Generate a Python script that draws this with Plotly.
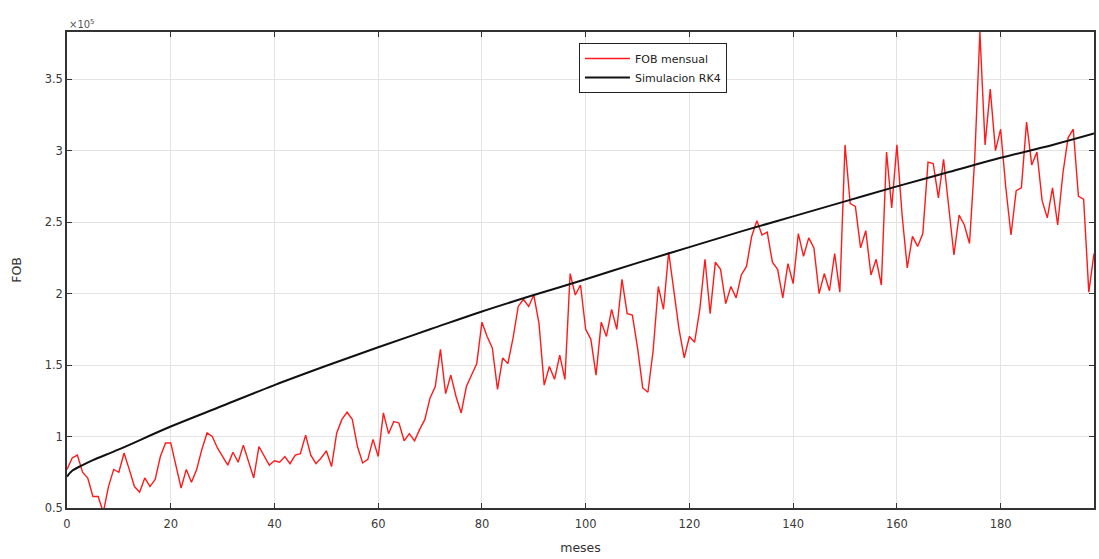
import plotly.graph_objects as go

# FOB mensual (x 10^5), month 0..198
months = list(range(0, 199))
fob = [
    0.77, 0.85, 0.87, 0.75, 0.71, 0.58, 0.58, 0.47, 0.65, 0.77,
    0.75, 0.885, 0.77, 0.65, 0.61, 0.71, 0.65, 0.70, 0.86, 0.955,
    0.955, 0.79, 0.64, 0.77, 0.68, 0.77, 0.91, 1.025, 1.00, 0.92,
    0.86, 0.80, 0.89, 0.82, 0.94, 0.83, 0.71, 0.93, 0.87, 0.80,
    0.83, 0.82, 0.86, 0.81, 0.87, 0.88, 1.01, 0.87, 0.81, 0.85,
    0.90, 0.79, 1.025, 1.12, 1.17, 1.12, 0.93, 0.815, 0.84, 0.98,
    0.86, 1.165, 1.02, 1.105, 1.095, 0.97, 1.02, 0.97, 1.05, 1.12,
    1.27, 1.35, 1.61, 1.30, 1.43, 1.28, 1.165, 1.35, 1.43, 1.51,
    1.80, 1.70, 1.62, 1.33, 1.55, 1.51, 1.69, 1.91, 1.96, 1.91,
    1.99, 1.79, 1.36, 1.49, 1.40, 1.57, 1.40, 2.14, 1.99, 2.06,
    1.75, 1.68, 1.43, 1.80, 1.70, 1.89, 1.75, 2.10, 1.86, 1.85,
    1.62, 1.34, 1.31, 1.60, 2.05, 1.89, 2.29, 2.00, 1.75, 1.55,
    1.70, 1.66, 1.89, 2.24, 1.86, 2.22, 2.17, 1.93, 2.05, 1.97,
    2.13, 2.19, 2.40, 2.51, 2.41, 2.43, 2.22, 2.17, 1.97, 2.21,
    2.07, 2.42, 2.26, 2.39, 2.32, 2.00, 2.14, 2.02, 2.28, 2.01,
    3.04, 2.63, 2.61, 2.32, 2.44, 2.13, 2.24, 2.06, 2.99, 2.60,
    3.04, 2.55, 2.18, 2.40, 2.33, 2.42, 2.92, 2.91, 2.67, 2.94,
    2.62, 2.27, 2.55, 2.48, 2.35, 2.94, 3.83, 3.04, 3.43, 3.00,
    3.15, 2.74, 2.41, 2.72, 2.74, 3.20, 2.90, 2.99, 2.65, 2.53,
    2.74, 2.48, 2.84, 3.09, 3.15, 2.68, 2.66, 2.01, 2.28,
]

# Simulacion RK4 (read at sample months)
rk4_months = [0, 1, 3, 5, 10, 20, 30, 40, 50, 60, 70, 80, 90, 100,
              110, 120, 130, 140, 150, 160, 170, 180, 190, 198]
rk4 = [0.72, 0.76, 0.80, 0.835, 0.91, 1.07, 1.215, 1.36, 1.495, 1.625,
       1.75, 1.875, 1.99, 2.10, 2.215, 2.325, 2.435, 2.54, 2.645, 2.75,
       2.85, 2.95, 3.04, 3.12]

x_ticks = list(range(0, 181, 20))
y_ticks = [0.5, 1, 1.5, 2, 2.5, 3, 3.5]
y_tick_text = ["0.5", "1", "1.5", "2", "2.5", "3", "3.5"]

FONT = "DejaVu Sans, Liberation Sans, Arial"

fig = go.Figure()
fig.add_trace(go.Scatter(x=months, y=fob, mode="lines", name="FOB mensual",
                         line=dict(color="#ff1a1a", width=1.4)))
fig.add_trace(go.Scatter(x=rk4_months, y=rk4, mode="lines", name="Simulacion RK4",
                         line=dict(color="#111111", width=2, shape="spline", smoothing=1.0)))

axis_common = dict(showgrid=True, gridcolor="#e3e3e3", gridwidth=1,
                   showline=True, linecolor="#333333", linewidth=1.5, mirror="ticks",
                   ticks="inside", ticklen=5, tickcolor="#333333", zeroline=False,
                   tickfont=dict(family=FONT, size=11.5, color="#3a3a3a"))

fig.update_layout(
    width=1099, height=559,
    margin=dict(l=67, r=3, t=32, b=51),
    paper_bgcolor="white", plot_bgcolor="white",
    font=dict(family=FONT, size=11.5, color="#333333"),
    xaxis=dict(range=[0, 198], tickvals=x_ticks, ticklabelstandoff=4,
               title=dict(text="meses", standoff=14, font=dict(size=12.5)), **axis_common),
    yaxis=dict(range=[0.5, 3.83], tickvals=y_ticks, ticktext=y_tick_text,
               title=dict(text="FOB", standoff=20, font=dict(size=12.5)), **axis_common),
    legend=dict(x=0.4985, y=0.977, xanchor="left", yanchor="top",
                bgcolor="white", bordercolor="#222222", borderwidth=1,
                itemwidth=45,
                font=dict(family=FONT, size=11, color="#222222"), tracegroupgap=0),
    showlegend=True,
)
fig.add_annotation(text="×10<sup>5</sup>", xref="paper", yref="paper", x=0.0, y=1.0,
                   xanchor="left", yanchor="bottom", showarrow=False,
                   font=dict(family=FONT, size=10, color="#555555"))

fig.write_html("out.html")
